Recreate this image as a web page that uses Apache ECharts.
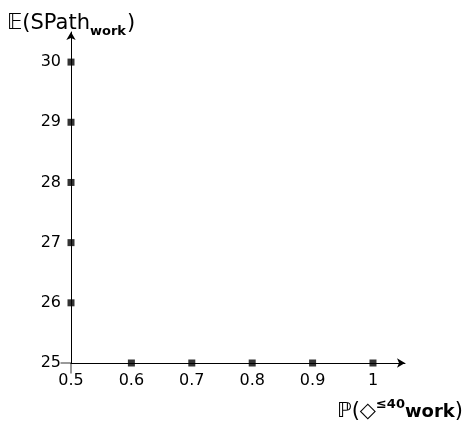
<!DOCTYPE html>
<html>
<head>
<meta charset="utf-8">
<script src="https://cdn.jsdelivr.net/npm/echarts@6/dist/echarts.min.js"></script>
<style>html,body{margin:0;padding:0;background:#fff}#c{width:469px;height:425px}</style>
</head>
<body>
<div id="c"></div>
<script>
const xTickLabels = [0.5, 0.6, 0.7, 0.8, 0.9, 1];
const yTickLabels = [25, 26, 27, 28, 29, 30];
const xMarkValues = [0.6, 0.7, 0.8, 0.9, 1];
const xMarkBase = 25;
const yMarkValues = [26, 27, 28, 29, 30];
const yMarkBase = 0.5;

const font = 'DejaVu Sans';
const marks = xMarkValues.map(v => [v, xMarkBase]).concat(yMarkValues.map(v => [yMarkBase, v]));
const origin = [[xTickLabels[0], yTickLabels[0]]];
const lineStyle = {color: '#000', width: 1};

const chart = echarts.init(document.getElementById('c'), null, {renderer: 'canvas'});
chart.setOption({
  animation: false,
  backgroundColor: '#fff',
  grid: {left: 71, right: 64, top: 32, bottom: 62, containLabel: false},
  title: [
    {
      left: 2, top: 5,
      text: '{e|𝔼}{t|(SPath}{s|work}{t|)}',
      textStyle: {
        fontWeight: 'normal',
        rich: {
          e: {fontFamily: font, fontSize: 21, fontWeight: 'normal', color: '#000', lineHeight: 28},
          t: {fontFamily: font, fontSize: 21, fontWeight: 'normal', color: '#000', lineHeight: 28},
          s: {fontFamily: font, fontSize: 13, fontWeight: 'bold', color: '#000', lineHeight: 28, verticalAlign: 'bottom', padding: [0, 1, 0, 0]}
        }
      }
    },
    {
      right: 1, top: 393,
      text: '{p|ℙ}{t|(◇}{u|≤40}{w|work}{t|)}',
      textStyle: {
        fontWeight: 'normal',
        rich: {
          p: {fontFamily: font, fontSize: 21, fontWeight: 'normal', color: '#000', lineHeight: 28},
          t: {fontFamily: font, fontSize: 21, fontWeight: 'normal', color: '#000', lineHeight: 28},
          u: {fontFamily: font, fontSize: 13, fontWeight: 'bold', color: '#000', lineHeight: 28, verticalAlign: 'top', padding: [0, 0, 0, 0]},
          w: {fontFamily: font, fontSize: 18, fontWeight: 'bold', color: '#000', lineHeight: 28}
        }
      }
    }
  ],
  xAxis: {
    type: 'value',
    min: 0.5, max: 1.053,
    interval: 0.1,
    splitLine: {show: false},
    axisLine: {show: true, onZero: false, lineStyle: lineStyle, symbol: ['none', 'arrow'], symbolSize: [7, 8]},
    axisTick: {show: false},
    axisLabel: {customValues: xTickLabels, formatter: v => String(v), fontFamily: font, fontSize: 16, color: '#000', margin: 10}
  },
  yAxis: {
    type: 'value',
    min: 25, max: 30.5,
    interval: 1,
    splitLine: {show: false},
    axisLine: {show: true, onZero: false, lineStyle: lineStyle, symbol: ['none', 'arrow'], symbolSize: [7, 8]},
    axisTick: {show: false},
    axisLabel: {customValues: yTickLabels, formatter: v => String(v), fontFamily: font, fontSize: 16, color: '#000', margin: 10}
  },
  series: [{
    type: 'scatter',
    data: marks,
    symbol: 'rect',
    symbolSize: 7,
    clip: false,
    itemStyle: {color: '#000'},
    z: 5
  }, {
    type: 'scatter',
    data: origin,
    symbol: 'path://M0,10 h11 v1 h-11 z M10,10 h1 v11 h-1 z M0,0 h0.01 v0.01 h-0.01 z M20.99,20.99 h0.01 v0.01 h-0.01 z',
    symbolSize: [21, 21],
    symbolKeepAspect: true,
    symbolOffset: [0, 0],
    clip: false,
    silent: true,
    itemStyle: {color: '#000'},
    z: 4
  }]
});
</script>
</body>
</html>
